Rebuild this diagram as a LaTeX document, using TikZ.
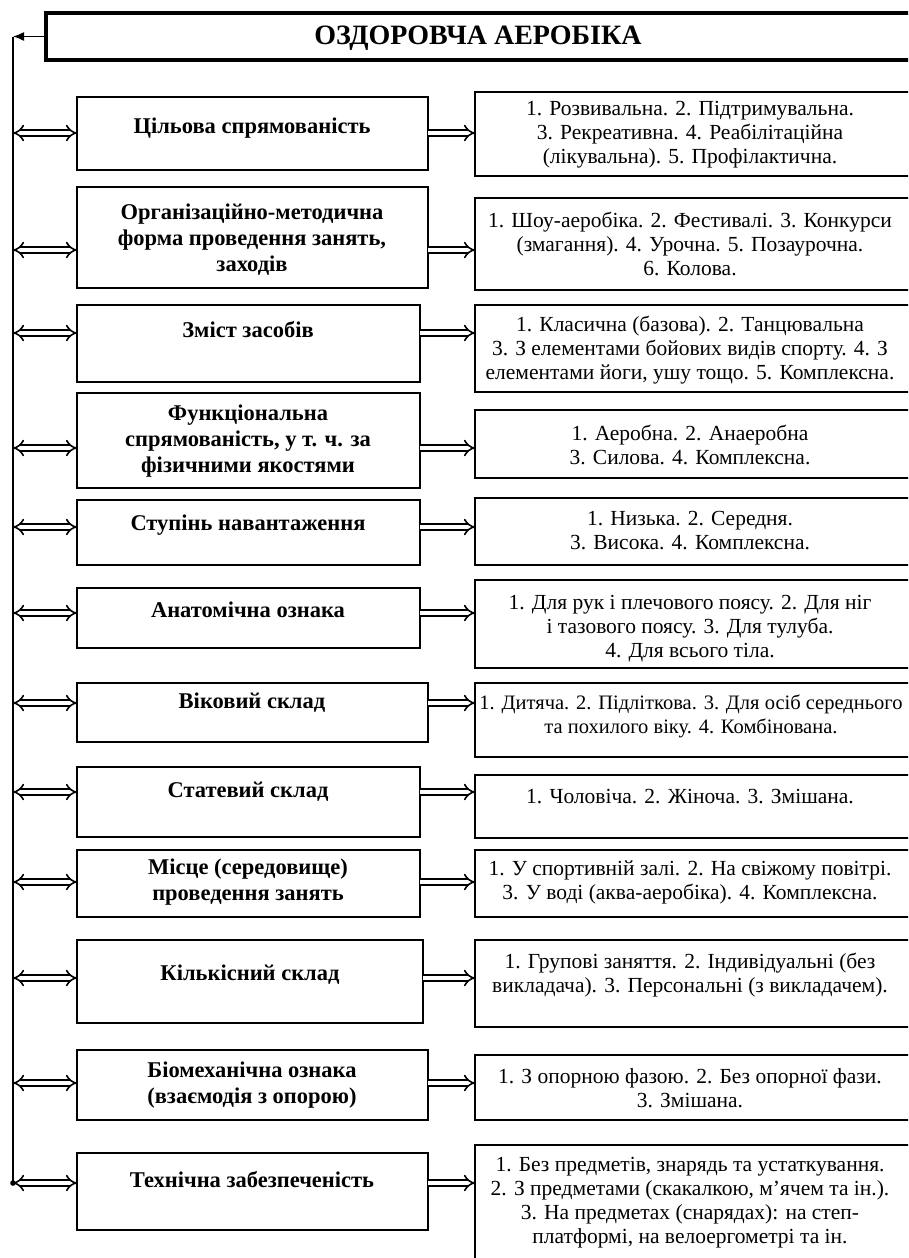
\documentclass[tikz,border=0pt]{standalone}
\usepackage{fontspec}
\setmainfont{Liberation Serif}
\usetikzlibrary{arrows.meta}
\newcommand{\boxnode}[6][boxst]{%
  \node[#1, minimum width={(#5-#3)*1pt}, minimum height={(#6-#4)*1pt}] (#2) at ({(#3+#5)/2},{(#4+#6)/2}) {};}
\begin{document}
\begin{tikzpicture}[x=1pt,y=-1pt,
  boxst/.style={draw, line width=2pt, inner sep=0pt, outer sep=0pt},
  titlest/.style={draw, line width=3.2pt, inner sep=0pt, outer sep=0pt},
  ltext/.style={font=\fontsize{22.5}{26}\selectfont\bfseries, align=center, inner sep=0pt},
  rtext/.style={font=\fontsize{21.5}{24}\selectfont, align=center, inner sep=0pt},
  ttext/.style={font=\fontsize{28}{30}\selectfont\bfseries, inner sep=0pt},
  dblL/.style={double, double distance=4pt, line width=1.6pt, {Implies}-{Implies}},
  dblR/.style={double, double distance=4pt, line width=1.6pt, -{Implies}},
  vline/.style={line width=1.4pt}]
\useasboundingbox (0,0) rectangle (908,1258);
\clip (0,0) rectangle (908,1258);

% title
\boxnode[titlest]{T}{46}{13}{940}{60}
\node[ttext] (Tt) at (478,38) {ОЗДОРОВЧА АЕРОБІКА};
\coordinate (vtop) at (13,36.5);

% row boxes
\boxnode{L1}{77}{97}{428}{170}    \boxnode{R1}{475}{92}{940}{176}
\boxnode{L2}{77}{187}{428}{288}   \boxnode{R2}{475}{198}{940}{290}
\boxnode{L3}{77}{305}{420}{382}   \boxnode{R3}{475}{305}{940}{392}
\boxnode{L4}{77}{393}{420}{488}   \boxnode{R4}{475}{410}{940}{478}
\boxnode{L5}{77}{500}{420}{565}   \boxnode{R5}{475}{498}{940}{565}
\boxnode{L6}{77}{588}{420}{648}   \boxnode{R6}{475}{580}{940}{668}
\boxnode{L7}{77}{683}{428}{742}   \boxnode{R7}{475}{683}{940}{757}
\boxnode{L8}{77}{767}{420}{837}   \boxnode{R8}{475}{775}{940}{838}
\boxnode{L9}{77}{850}{420}{917}   \boxnode{R9}{475}{850}{940}{917}
\boxnode{L10}{77}{940}{423}{1023} \boxnode{R10}{475}{940}{940}{1027}
\boxnode{L11}{77}{1050}{428}{1120} \boxnode{R11}{475}{1055}{940}{1120}
\boxnode{L12}{77}{1153}{428}{1230} \boxnode{R12}{475}{1145}{940}{1300}

% texts
\node[ltext] (L1t) at (252,128) {Цільова спрямованість};
\node[rtext] (R1t) at (690,135) {1. Розвивальна. 2. Підтримувальна.\\3. Рекреативна. 4. Реабілітаційна\\(лікувальна). 5. Профілактична.};
\node[ltext] (L2t) at (252,240) {Організаційно-методична\\форма проведення занять,\\заходів};
\node[rtext] (R2t) at (690,244) {1. Шоу-аеробіка. 2. Фестивалі. 3. Конкурси\\(змагання). 4. Урочна. 5. Позаурочна.\\6. Колова.};
\node[ltext] (L3t) at (248,330) {Зміст засобів};
\node[rtext] (R3t) at (690,350) {1. Класична (базова). 2. Танцювальна\\3. З елементами бойових видів спорту. 4. З\\елементами йоги, ушу тощо. 5. Комплексна.};
\node[ltext] (L4t) at (248,441) {Функціональна\\спрямованість, у т. ч. за\\фізичними якостями};
\node[rtext] (R4t) at (690,445) {1. Аеробна. 2. Анаеробна\\3. Силова. 4. Комплексна.};
\node[ltext] (L5t) at (248,525) {Ступінь навантаження};
\node[rtext] (R5t) at (690,531) {1. Низька. 2. Середня.\\3. Висока. 4. Комплексна.};
\node[ltext] (L6t) at (248,610) {Анатомічна ознака};
\node[rtext] (R6t) at (690,629) {1. Для рук і плечового поясу. 2. Для ніг\\і тазового поясу. 3. Для тулуба.\\4. Для всього тіла.};
\node[ltext] (L7t) at (252,703) {Віковий склад};
\node[rtext, font=\fontsize{20.5}{24}\selectfont] (R7t) at (691,716) {1. Дитяча. 2. Підліткова. 3. Для осіб середнього\\та похилого віку. 4. Комбінована.};
\node[ltext] (L8t) at (248,792) {Статевий склад};
\node[rtext] (R8t) at (690,797) {1. Чоловіча. 2. Жіноча. 3. Змішана.};
\node[ltext] (L9t) at (248,882) {Місце (середовище)\\проведення занять};
\node[rtext] (R9t) at (690,882) {1. У спортивній залі. 2. На свіжому повітрі.\\3. У воді (аква-аеробіка). 4. Комплексна.};
\node[ltext] (L10t) at (250,975) {Кількісний склад};
\node[rtext] (R10t) at (690,975) {1. Групові заняття. 2. Індивідуальні (без\\викладача). 3. Персональні (з викладачем).};
\node[ltext] (L11t) at (252,1085) {Біомеханічна ознака\\(взаємодія з опорою)};
\node[rtext] (R11t) at (690,1088) {1. З опорною фазою. 2. Без опорної фази.\\3. Змішана.};
\node[ltext] (L12t) at (252,1180) {Технічна забезпеченість};
\node[rtext] (R12t) at (690,1203) {1. Без предметів, знарядь та устаткування.\\2. З предметами (скакалкою, м’ячем та ін.).\\3. На предметах (снарядах): на степ-\\платформі, на велоергометрі та ін.};

% connectors
\foreach \k/\ay in {1/133,2/250,3/333,4/448,5/527,6/613,7/703,8/792,9/882,10/978,11/1083,12/1183}{
  \coordinate (v\k) at (13,\ay);
  \draw[dblL] (v\k) -- (L\k.west |- v\k);
  \draw[dblR] (L\k.east |- v\k) -- (R\k.west |- v\k);
}
\draw[vline, -{Latex[length=11pt,width=9pt]}] (T.west |- vtop) -- (vtop);
\draw[vline] (vtop) -- (v12);
\fill (v12) circle (2.8pt);
\end{tikzpicture}
\end{document}
